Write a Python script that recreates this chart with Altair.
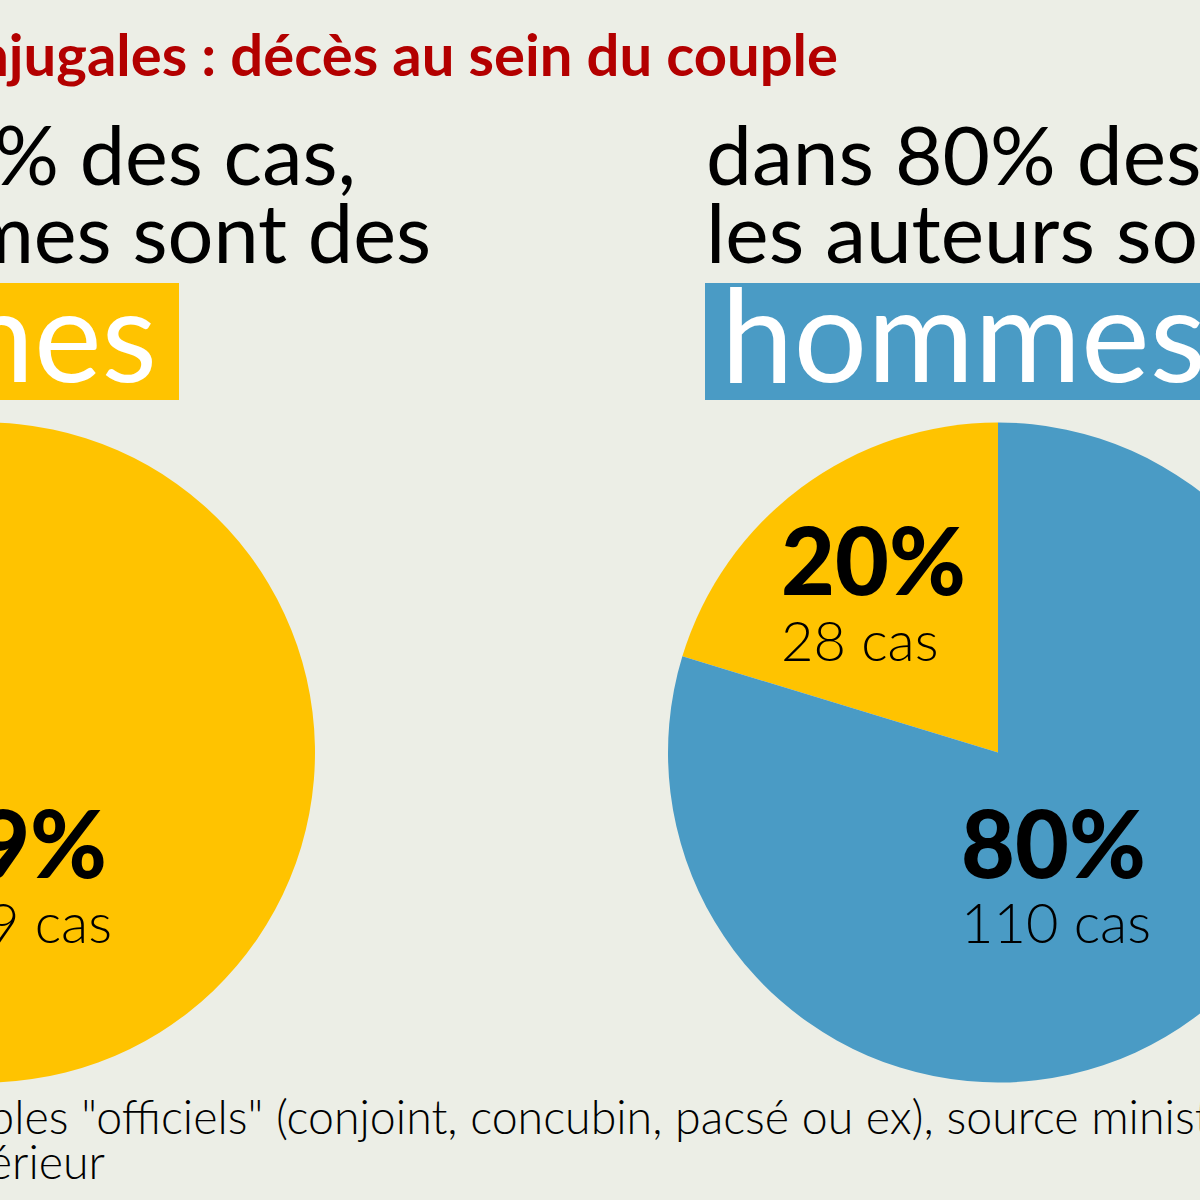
import altair as alt
import pandas as pd

FONT = "Lato"
BG = "#ECEEE6"
YELLOW = "#FFC300"
BLUE = "#4A9BC5"
RED = "#B30000"

# ---- data ----
title = "Violences conjugales : décès au sein du couple"
left_heading = ["Dans 79% des cas,", "les victimes sont des"]
left_key = "femmes"
right_heading = ["dans 80% des cas,", "les auteurs sont des"]
right_key = "hommes"

categories = ["femmes", "hommes"]
victims_counts = [109, 29]      # left pie: victims by sex
authors_counts = [28, 110]      # right pie: authors by sex
victims_order = [1, 2]
authors_order = [2, 1]

victims_labels = ["79%", "109 cas"]
authors_labels_f = ["20%", "28 cas"]
authors_labels_h = ["80%", "110 cas"]

footer = ['*Sur les couples "officiels" (conjoint, concubin, pacsé ou ex), source ministère',
          "de l'Intérieur"]

color_scale = alt.Scale(domain=categories, range=[YELLOW, BLUE])


def pie(counts, order, cx, cy):
    df = pd.DataFrame({"cat": categories, "n": counts, "o": order})
    return alt.Chart(df).mark_arc(outerRadius=330).encode(
        theta=alt.Theta("n:Q", stack=True),
        color=alt.Color("cat:N", scale=color_scale, legend=None),
        order=alt.Order("o:Q"),
        x=alt.value(cx),
        y=alt.value(cy),
    )


def txt(s, x, y, size, weight=400, color="#000000", align="left"):
    df = pd.DataFrame({"t": [s]})
    return alt.Chart(df).mark_text(
        align=align, baseline="alphabetic", font=FONT, fontSize=size,
        fontWeight=weight, color=color,
    ).encode(text="t:N", x=alt.value(x), y=alt.value(y))


def box(x1, x2, y1, y2, color):
    df = pd.DataFrame({"k": [0]})
    return alt.Chart(df).mark_rect(color=color).encode(
        x=alt.value(x1), x2=alt.value(x2), y=alt.value(y1), y2=alt.value(y2)
    )


layers = [
    pie(victims_counts, victims_order, -15, 752.5),
    pie(authors_counts, authors_order, 998, 752.5),
    txt(title, 838, 76, 58, 700, RED, "right"),
    txt(left_heading[0], 356, 185, 81, 400, "#000000", "right"),
    txt(left_heading[1], 431, 263, 81, 400, "#000000", "right"),
    txt(right_heading[0], 706, 185, 82),
    txt(right_heading[1], 706, 263, 82),
    box(-400, 179, 283, 400, YELLOW),
    box(705, 1300, 283, 400, BLUE),
    txt(left_key, 157, 382, 128, 400, "#FFFFFF", "right"),
    txt(right_key, 721, 382, 130, 400, "#FFFFFF", "left"),
    txt(victims_labels[0], 107, 878, 93, 900, "#000000", "right"),
    txt(victims_labels[1], 112, 943, 56, 300, "#000000", "right"),
    txt(authors_labels_f[0], 781, 595, 93, 900),
    txt(authors_labels_f[1], 781, 661, 56, 300),
    txt(authors_labels_h[0], 961, 878, 93, 900),
    txt(authors_labels_h[1], 961, 943, 56, 300),
    txt(footer[0], -249, 1134, 46.5, 300),
    txt(footer[1], 105, 1179, 46.5, 300, "#000000", "right"),
]

chart = alt.layer(*layers).resolve_scale(theta="independent").properties(
    width=1200, height=1200,
    autosize=alt.AutoSizeParams(type="none"),
    padding=0,
    background=BG,
).configure_view(stroke=None)

chart.save("out.html", embed_options={"renderer": "svg", "actions": False})
